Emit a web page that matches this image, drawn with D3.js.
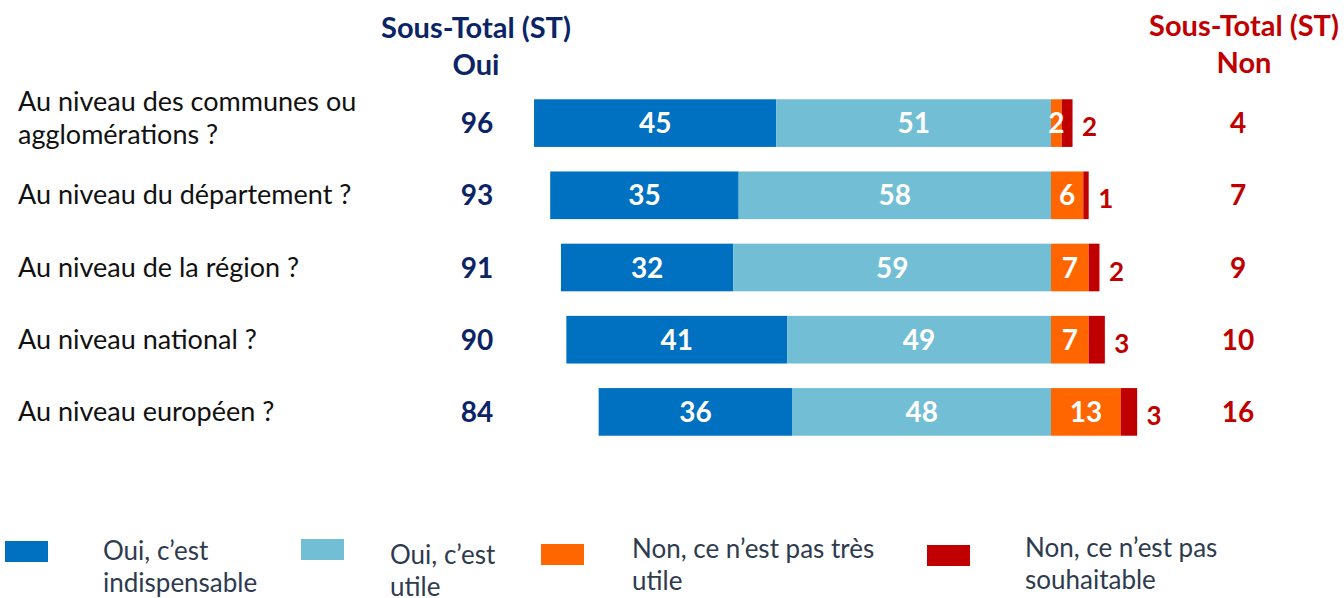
<!DOCTYPE html>
<html><head><meta charset="utf-8">
<script src="https://cdn.jsdelivr.net/npm/d3@7/dist/d3.min.js"></script>
<style>body{margin:0;background:#fff}svg{display:block}text{font-family:Lato,"Open Sans",sans-serif}</style>
</head><body><svg id="c" width="1344" height="598"></svg>
<script>
const categories = [["Au niveau des communes ou","agglomérations ?"],["Au niveau du département ?"],["Au niveau de la région ?"],["Au niveau national ?"],["Au niveau européen ?"]];
const ouiIndispensable = [45,35,32,41,36];
const ouiUtile = [51,58,59,49,48];
const nonPasTresUtile = [2,6,7,7,13];
const nonPasSouhaitable = [2,1,2,3,3];
const stOui = [96,93,91,90,84];
const stNon = [4,7,9,10,16];
const legendLabels = [["Oui, c\u2019est","indispensable"],["Oui, c\u2019est","utile"],["Non, ce n\u2019est pas très","utile"],["Non, ce n\u2019est pas","souhaitable"]];
const colors = ["#0070C0","#72BED5","#FF6600","#C00000"];

const svg = d3.select("#c");
const x = d3.scaleLinear().domain([-100,30]).range([1051-100*5.385,1051+30*5.385]);
const y = d3.scaleBand().domain(d3.range(categories.length)).range([87,448]).paddingInner(0.34).paddingOuter(0.17);
const bh = y.bandwidth();
const cy = i => y(i)+bh/2;

const navy="#0B2466", red="#C00000";
const hdr = (tx,ty,txt,col)=>svg.append("text").attr("x",tx).attr("y",ty).attr("text-anchor","middle").attr("font-size",29).attr("font-weight","bold").attr("fill",col).text(txt);
hdr(476,38,"Sous-Total (ST)",navy);
hdr(476,75,"Oui",navy);
hdr(1244,36,"Sous-Total (ST)",red);
hdr(1244,73,"Non",red);

const rows = categories.map((c,i)=>{
  const a=ouiIndispensable[i], b=ouiUtile[i], o=nonPasTresUtile[i], r=nonPasSouhaitable[i];
  return {i, segs:[
    {x0:-(a+b), x1:-b, v:a, c:0},
    {x0:-b, x1:0, v:b, c:1},
    {x0:0, x1:o, v:o, c:2},
    {x0:o, x1:o+r, v:r, c:3}
  ]};
});

rows.forEach(row=>{
  const g = svg.append("g");
  g.selectAll("rect").data(row.segs).join("rect")
    .attr("x",d=>x(d.x0)).attr("width",d=>x(d.x1)-x(d.x0))
    .attr("y",y(row.i)).attr("height",bh).attr("fill",d=>colors[d.c]);
  g.selectAll("text.v").data(row.segs.slice(0,3)).join("text").attr("class","v")
    .attr("x",d=>(x(d.x0)+x(d.x1))/2).attr("y",cy(row.i)+10)
    .attr("text-anchor","middle").attr("font-size",28).attr("font-weight","bold").attr("fill","#fff").text(d=>d.v);
  const last=row.segs[3];
  g.append("text").attr("x",x(last.x1)+17).attr("y",cy(row.i)+13).attr("text-anchor","middle")
    .attr("font-size",26).attr("font-weight","bold").attr("fill",red).text(last.v);
  const lines=categories[row.i];
  const t=g.append("text").attr("font-size",27).attr("fill","#111");
  lines.forEach((l,k)=>t.append("tspan").attr("x",18).attr("y",cy(row.i)+9+(k-(lines.length-1)/2)*33 - (lines.length>1?5:0)).text(l));
  g.append("text").attr("x",477).attr("y",cy(row.i)+10).attr("text-anchor","middle").attr("font-size",28).attr("font-weight","bold").attr("fill",navy).text(stOui[row.i]);
  g.append("text").attr("x",1238).attr("y",cy(row.i)+10).attr("text-anchor","middle").attr("font-size",28).attr("font-weight","bold").attr("fill",red).text(stNon[row.i]);
});

const lx=[5,301,541,927], ly=[541,539,544,545], tx=[103,390,632,1025], ty=[560,564,558,557];
legendLabels.forEach((lab,k)=>{
  svg.append("rect").attr("x",lx[k]).attr("y",ly[k]).attr("width",43).attr("height",21).attr("fill",colors[k]);
  const t=svg.append("text").attr("font-size",26).attr("fill","#2E3B4E");
  lab.forEach((l,j)=>t.append("tspan").attr("x",tx[k]).attr("y",ty[k]+j*32).text(l));
});
</script></body></html>
